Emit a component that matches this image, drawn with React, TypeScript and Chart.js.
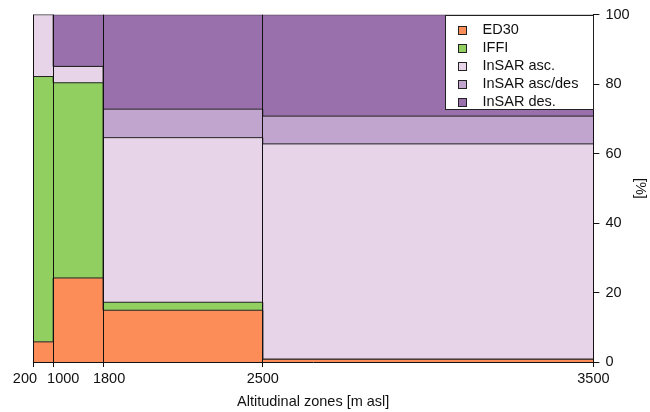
import React, { useEffect, useRef } from "react";
import { Chart, registerables } from "chart.js";

Chart.register(...registerables);

// Altitudinal zone boundaries (tick labels) and each zone's share of the x extent (%)
const zoneLabels = ["200", "1000", "1800", "2500", "3500"];
const zoneShares = [3.6, 8.9, 28.5, 59.0];

// Percentage of each source per zone (200-1000, 1000-1800, 1800-2500, 2500-3500)
const seriesNames = ["ED30", "IFFI", "InSAR asc.", "InSAR asc/des", "InSAR des."];
const ed30 = [5.8, 24.2, 14.9, 0.8];
const iffi = [76.4, 56.2, 2.3, 0.0];
const insarAsc = [17.8, 4.7, 47.4, 62.0];
const insarAscDes = [0.0, 0.0, 8.2, 8.0];
const insarDes = [0.0, 14.9, 27.2, 29.2];

const yTicks = [0, 20, 40, 60, 80, 100];

// styling
const seriesColors = ["#fc8d59", "#91cf60", "#e7d4e8", "#c2a5cf", "#9970ab"];
const tickNudgeSpaces = [-4, 5, 3, 0, 0];
const FONT = '"Liberation Sans", Arial, Helvetica, sans-serif';

const legendPlugin = {
  id: "boxLegend",
  afterDraw(chart: any) {
    const { ctx, chartArea } = chart;
    const w = 148;
    const h = 94;
    const x0 = Math.round(chartArea.right - w) + 0.5;
    const y0 = Math.round(chartArea.top) + 0.5;
    ctx.save();
    ctx.fillStyle = "#ffffff";
    ctx.fillRect(x0, y0, w, h);
    ctx.strokeStyle = "#222222";
    ctx.lineWidth = 1;
    ctx.strokeRect(x0, y0, w, h);
    ctx.font = `14.5px ${FONT}`;
    ctx.textBaseline = "middle";
    ctx.textAlign = "left";
    chart.data.datasets.forEach((ds: any, i: number) => {
      const cy = y0 + 14 + i * 18.2;
      const bx = Math.round(x0 + 12) + 0.5;
      const by = Math.round(cy - 4) + 0.5;
      ctx.fillStyle = ds.backgroundColor;
      ctx.fillRect(bx, by, 8, 8);
      ctx.strokeStyle = "#222222";
      ctx.strokeRect(bx, by, 8, 8);
      ctx.fillStyle = "#111111";
      ctx.fillText(ds.label, x0 + 37, cy);
    });
    ctx.restore();
  },
};

export default function App() {
  const canvasRef = useRef<HTMLCanvasElement | null>(null);

  useEffect(() => {
    document.body.style.margin = "0";
    const canvas = canvasRef.current;
    if (!canvas) return;

    const boundaries: number[] = [0];
    zoneShares.forEach((s) => boundaries.push(boundaries[boundaries.length - 1] + s));

    const series = [ed30, iffi, insarAsc, insarAscDes, insarDes];
    const cumulative: number[][] = [];
    series.forEach((vals, si) => {
      cumulative.push(vals.map((v, zi) => (si > 0 ? cumulative[si - 1][zi] : 0) + v));
    });

    const datasets = series.map((_, si) => {
      const cum = cumulative[si];
      const pts = boundaries.map((bx, bi) => ({
        x: bx,
        y: cum[Math.min(bi, cum.length - 1)],
      }));
      return {
        label: seriesNames[si],
        data: pts,
        stepped: "before" as const,
        fill: si === 0 ? "origin" : "-1",
        backgroundColor: seriesColors[si],
        borderColor: "#222222",
        borderWidth: 1,
        pointRadius: 0,
        pointHoverRadius: 0,
      };
    });

    const chart = new Chart(canvas, {
      type: "line",
      data: { datasets: datasets as any },
      plugins: [legendPlugin],
      options: {
        responsive: false,
        animation: false,
        events: [],
        layout: { padding: { left: 33, top: 14, right: 1, bottom: 1.6 } },
        plugins: {
          legend: { display: false },
          tooltip: { enabled: false },
          filler: { propagate: false },
        },
        scales: {
          x: {
            type: "linear",
            min: 0,
            max: 100,
            z: 1,
            afterBuildTicks: (scale: any) => {
              scale.ticks = boundaries.map((v) => ({ value: v }));
            },
            afterFit: (scale: any) => {
              scale.height = 48.4;
            },
            ticks: {
              autoSkip: false,
              maxRotation: 0,
              padding: 3,
              color: "#111111",
              font: { family: FONT, size: 14.5 },
              callback: (_v: any, i: number) => {
                const n = tickNudgeSpaces[i] || 0;
                const lab = zoneLabels[i];
                return n < 0 ? lab + " ".repeat(-n) : " ".repeat(n) + lab;
              },
            },
            grid: {
              display: true,
              drawOnChartArea: true,
              drawTicks: true,
              tickLength: 5,
              color: "#111111",
              lineWidth: 1,
              z: 1,
            },
            border: { display: true, color: "#111111", width: 1, z: 1 },
            title: {
              display: true,
              text: "Altitudinal zones [m asl]",
              color: "#111111",
              font: { family: FONT, size: 14.5, lineHeight: 1.2 },
              padding: { top: 5.6, bottom: 0 },
            },
          },
          y: {
            type: "linear",
            position: "right",
            min: 0,
            max: 100,
            afterBuildTicks: (scale: any) => {
              scale.ticks = yTicks.map((v) => ({ value: v }));
            },
            afterFit: (scale: any) => {
              scale.width = 55.6;
            },
            ticks: {
              padding: 6,
              color: "#111111",
              font: { family: FONT, size: 14.5 },
            },
            grid: {
              display: true,
              drawOnChartArea: false,
              drawTicks: true,
              tickLength: 6,
              color: "#111111",
            },
            border: { display: true, color: "#111111", width: 1 },
            title: {
              display: true,
              text: "[%]",
              color: "#111111",
              font: { family: FONT, size: 14.5, lineHeight: 1.2 },
              padding: { top: 0, bottom: 2 },
            },
          },
        },
      },
    });

    return () => chart.destroy();
  }, []);

  return (
    <div style={{ width: 650, height: 412 }}>
      <canvas ref={canvasRef} width={650} height={412} style={{ display: "block" }} />
    </div>
  );
}
